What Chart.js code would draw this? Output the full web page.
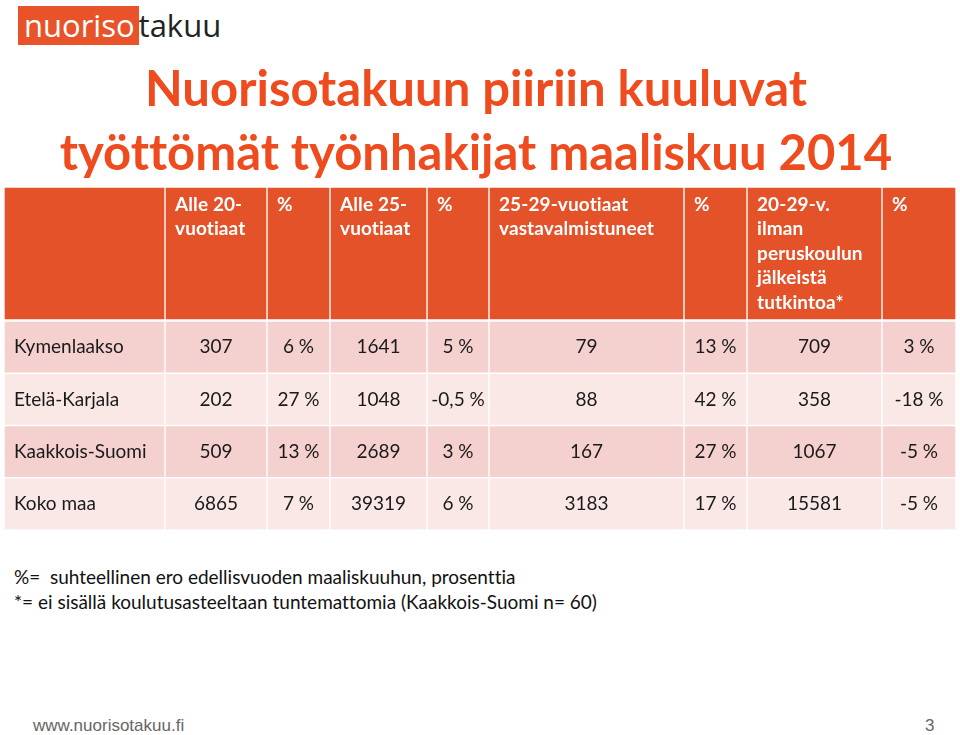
<!DOCTYPE html>
<html lang="fi">
<head>
<meta charset="utf-8">
<script src="https://cdn.jsdelivr.net/npm/chart.js@4.4.1/dist/chart.umd.min.js"></script>
<style>
  body { margin: 0; background: #fff; }
  #page { position: relative; width: 960px; height: 735px; overflow: hidden; font-family: Lato, sans-serif; font-variant-ligatures: none; }
  .logo { position: absolute; left: 18px; top: 6px; height: 39px; font-family: "Open Sans", sans-serif; font-size: 31px; line-height: 39px; }
  .logo .box { background: #E8532A; color: #fff; padding: 0 4px 0 6px; display: inline-block; height: 39px; }
  .logo .rest { color: #222; }
  .title { position: absolute; left: 0; width: 952px; text-align: center; color: #EE4B1F; font-weight: bold; font-size: 49px; white-space: nowrap; }
  .note { position: absolute; left: 14px; font-size: 19px; color: #111; white-space: nowrap; }
  .footer { position: absolute; top: 716px; font-family: "Liberation Sans", sans-serif; font-size: 17px; color: #666; }
  .wrap { position: absolute; left: 0; width: 960px; }
</style>
</head>
<body>
<div id="page">
  <div class="logo"><span class="box">nuoriso</span><span class="rest">takuu</span></div>
  <div class="title" style="top:58px">Nuorisotakuun piiriin kuuluvat</div>
  <div class="title" style="top:122px">työttömät työnhakijat maaliskuu 2014</div>

  <div class="wrap" style="top:187px;height:133px"><canvas id="headChart"></canvas></div>
  <div class="wrap" style="top:321px;height:209px"><canvas id="bodyChart"></canvas></div>

  <div class="note" style="top:565px">%=&nbsp; suhteellinen ero edellisvuoden maaliskuuhun, prosenttia</div>
  <div class="note" style="top:590px">*= ei sisällä koulutusasteeltaan tuntemattomia (Kaakkois-Suomi n= 60)</div>

  <div class="footer" style="left:33px">www.nuorisotakuu.fi</div>
  <div class="footer" style="left:925px">3</div>
</div>

<script>
// taulukon sisältö
const regions = ['Kymenlaakso', 'Etelä-Karjala', 'Kaakkois-Suomi', 'Koko maa'];
const alle20 = [307, 202, 509, 6865];
const alle20Pct = [6, 27, 13, 7];
const alle25 = [1641, 1048, 2689, 39319];
const alle25Pct = [5, -0.5, 3, 6];
const vastavalmistuneet = [79, 88, 167, 3183];
const vastavalmistuneetPct = [13, 42, 27, 17];
const ilmanTutkintoa = [709, 358, 1067, 15581];
const ilmanTutkintoaPct = [3, -18, -5, -5];

const headers = [
    [],
    ['Alle 20-', 'vuotiaat'],
    ['%'],
    ['Alle 25-', 'vuotiaat'],
    ['%'],
    ['25-29-vuotiaat', 'vastavalmistuneet'],
    ['%'],
    ['20-29-v.', 'ilman', 'peruskoulun', 'jälkeistä', 'tutkintoa*'],
    ['%']
];

// sarakkeiden leveydet (asettelu)
const colWidths = [161, 102, 63, 97, 62, 195, 63, 135, 74];
const tableWidth = colWidths.reduce((a, b) => a + b, 0);

const HEAD_COLOR = '#E4522A';
const ROW_COLORS = ['#F4D0CE', '#FAE8E7', '#F4D0CE', '#FAE8E7'];

const fmtPct = v => String(v).replace('.', ',') + ' %';

const columns = [
    regions,
    alle20,
    alle20Pct.map(fmtPct),
    alle25,
    alle25Pct.map(fmtPct),
    vastavalmistuneet,
    vastavalmistuneetPct.map(fmtPct),
    ilmanTutkintoa,
    ilmanTutkintoaPct.map(fmtPct)
];

const cellBorder = {left: 1, right: 1, top: 1, bottom: 1};

function baseOptions() {
    return {
        indexAxis: 'y',
        responsive: true,
        maintainAspectRatio: false,
        animation: false,
        layout: {padding: {left: 4, right: 4}},
        plugins: {legend: {display: false}, tooltip: {enabled: false}},
        scales: {
            x: {type: 'linear', min: 0, max: tableWidth, stacked: true, display: false},
            y: {stacked: true, display: false}
        }
    };
}

// otsikkorivin tekstit
const headText = {
    id: 'headText',
    afterDatasetsDraw(chart) {
        const ctx = chart.ctx;
        ctx.save();
        ctx.fillStyle = '#fff';
        ctx.font = 'bold 19px Lato';
        ctx.letterSpacing = '0.1px'; // ei ligatuureja
        ctx.textBaseline = 'top';
        ctx.textAlign = 'left';
        headers.forEach((lines, c) => {
            const bar = chart.getDatasetMeta(c).data[0];
            const left = Math.min(bar.base, bar.x);
            const top = bar.y - bar.height / 2;
            lines.forEach((t, i) => ctx.fillText(t, left + 10, top + 8 + i * 24.5));
        });
        ctx.restore();
    }
};

// datarivien tekstit
const bodyText = {
    id: 'bodyText',
    afterDatasetsDraw(chart) {
        const ctx = chart.ctx;
        ctx.save();
        ctx.fillStyle = '#1a1a1a';
        ctx.font = '19px Lato';
        ctx.textBaseline = 'middle';
        columns.forEach((col, c) => {
            chart.getDatasetMeta(c).data.forEach((bar, r) => {
                const left = Math.min(bar.base, bar.x);
                const right = Math.max(bar.base, bar.x);
                if (c === 0) {
                    ctx.textAlign = 'left';
                    ctx.fillText(String(col[r]), left + 10, bar.y);
                } else {
                    ctx.textAlign = 'center';
                    ctx.fillText(String(col[r]), (left + right) / 2, bar.y);
                }
            });
        });
        ctx.restore();
    }
};

new Chart(document.getElementById('headChart'), {
    type: 'bar',
    data: {
        labels: ['otsikko'],
        datasets: colWidths.map(w => ({
            data: [w],
            backgroundColor: HEAD_COLOR,
            borderColor: '#fff',
            borderWidth: cellBorder,
            borderSkipped: false,
            categoryPercentage: 1,
            barPercentage: 1
        }))
    },
    options: baseOptions(),
    plugins: [headText]
});

new Chart(document.getElementById('bodyChart'), {
    type: 'bar',
    data: {
        labels: regions,
        datasets: colWidths.map(w => ({
            data: regions.map(() => w),
            backgroundColor: ROW_COLORS,
            borderColor: '#fff',
            borderWidth: cellBorder,
            borderSkipped: false,
            categoryPercentage: 1,
            barPercentage: 1
        }))
    },
    options: baseOptions(),
    plugins: [bodyText]
});
</script>
</body>
</html>
